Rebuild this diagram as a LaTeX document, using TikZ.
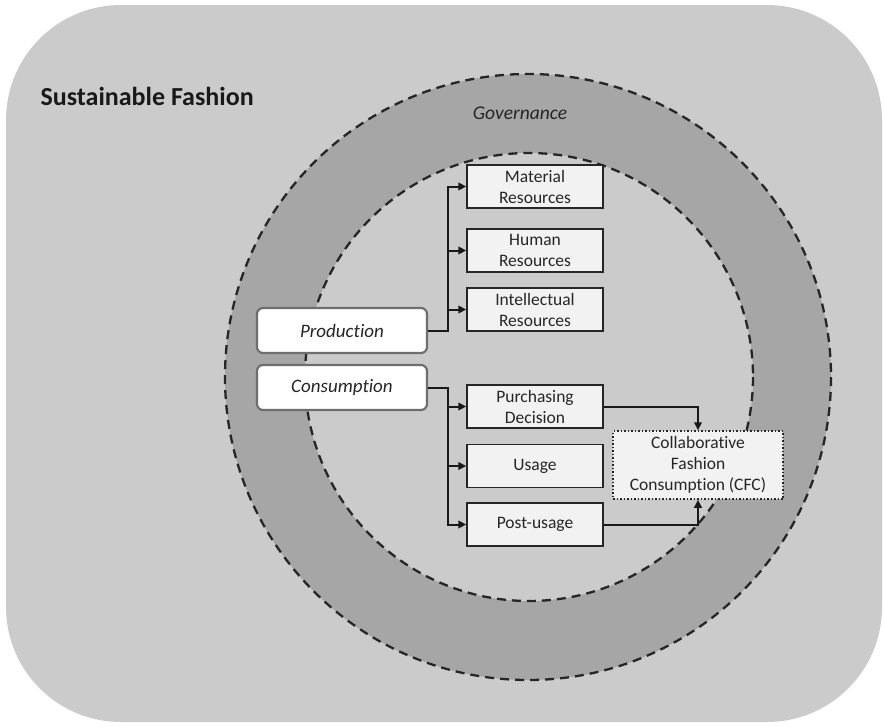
\documentclass[tikz,border=0pt]{standalone}
\usepackage{fontspec}
\setmainfont{Carlito}[Ligatures=NoCommon]
\usepackage{xcolor}
\usepackage{tikz}
\usetikzlibrary{arrows.meta,positioning}
\definecolor{figBack}{HTML}{CBCBCB}
\definecolor{figRing}{HTML}{A6A6A6}
\definecolor{figBox}{HTML}{F2F2F2}
\definecolor{figEdge}{HTML}{262626}
\definecolor{figFrame}{HTML}{6E6E6E}

\begin{document}
\begin{tikzpicture}[
  x=1pt, y=-1pt,
  every node/.style={font=\fontsize{17.5}{21}\selectfont, text=figEdge},
  phase/.style={
    draw=figFrame, line width=2.2pt, fill=white, rounded corners=6pt,
    minimum width=170pt, minimum height=45pt, inner sep=0pt,
    font=\fontsize{19}{22}\selectfont\itshape,
  },
  facet/.style={
    draw=figEdge, line width=1.4pt, fill=figBox, align=center,
    minimum width=136pt, minimum height=43pt, inner sep=0pt,
  },
  cfcbox/.style={
    draw=figEdge, line width=1.5pt, dotted, fill=figBox, align=center,
    minimum width=170pt, minimum height=68pt, inner sep=0pt,
  },
  ring/.style={draw=black!85, line width=2.3pt, dash pattern=on 9pt off 6pt},
  flow/.style={-{Triangle[length=8pt,width=7.5pt]}, line width=2pt, draw=black!90},
]
\useasboundingbox (0,0) rectangle (884,726);

% === Background and rings ===
\fill[figBack, rounded corners=115pt] (6,5) rectangle (882,722);
\fill[figRing] (528,377) circle (303);
\fill[figBack] (529,377) circle (224);
\draw[ring] (528,377) circle (303);
\draw[ring] (529,377) circle (224);

% === Labels ===
\node[font=\fontsize{26}{31}\selectfont\bfseries, text=black!90, anchor=west] (title) at (37,96)
  {Sustainable Fashion};
\node[font=\fontsize{19.5}{23}\selectfont\itshape] (gov) at (520,113) {Governance};

% === Production side ===
\node[phase] (prod) at (342,330.5) {Production};
\node[facet] (mat) at (535,186.5) {Material\\Resources};
\node[facet] (hum) at (535,250.5) {Human\\Resources};
\node[facet] (int) at (535,309.5) {Intellectual\\Resources};

% === Consumption side ===
\node[phase] (cons) at (342,387.5) {Consumption};
\node[facet] (pur) at (535,406.5) {Purchasing\\Decision};
\node[facet] (use) at (535,466) {Usage};
\node[facet] (post) at (535,524.5) {Post-usage};
\node[cfcbox] (cfc) at (698,465) {Collaborative\\Fashion\\Consumption (CFC)};

% === Connectors ===
\foreach \t in {mat,hum,int}
  \draw[flow] (prod.east) -- ++(20,0) |- (\t.west);
\foreach \t in {pur,use,post}
  \draw[flow] (cons.east) -- ++(19.5,0) |- (\t.west);
\draw[flow] (pur.east) -| (cfc.north);
\draw[flow] (post.east) -| (cfc.south);

\end{tikzpicture}
\end{document}
